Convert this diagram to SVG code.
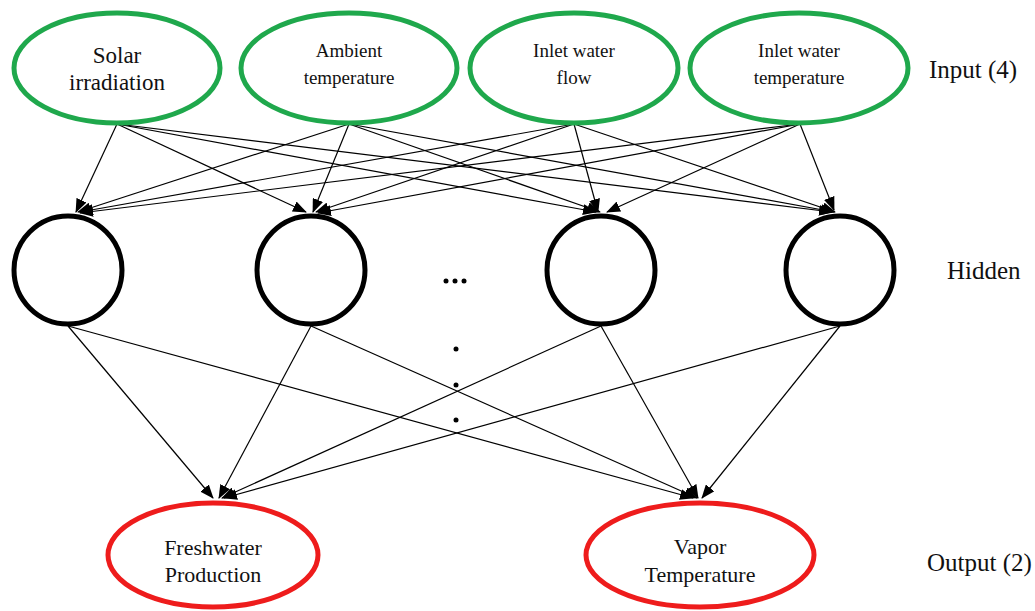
<svg xmlns="http://www.w3.org/2000/svg" width="1035" height="611" viewBox="0 0 1035 611">
<style>
.in{fill:#fff;stroke:#1fa84c;stroke-width:5}
.out{fill:#fff;stroke:#ee1c1c;stroke-width:5}
.hid{fill:#fff;stroke:#000;stroke-width:5}
.t{fill:#111;text-anchor:middle}
.lbl{fill:#111;font-size:25px}
.c line{stroke:#000;stroke-width:1.2;marker-end:url(#ah)}
.dot{fill:#000}
</style>
<defs>
<marker id="ah" viewBox="0 0 14 11" refX="13" refY="5.5" markerWidth="14" markerHeight="11" markerUnits="userSpaceOnUse" orient="auto">
<path d="M0,0 L14,5.5 L0,11 Z" fill="#000"/>
</marker>
</defs>
<rect width="1035" height="611" fill="#fff"/>
<g id="connectors" class="c">
<line x1="117" y1="124" x2="76" y2="212"/>
<line x1="117" y1="124" x2="306" y2="212"/>
<line x1="117" y1="124" x2="596" y2="212"/>
<line x1="117" y1="124" x2="832" y2="212"/>
<line x1="349" y1="124" x2="78" y2="212"/>
<line x1="349" y1="124" x2="313" y2="212"/>
<line x1="349" y1="124" x2="600" y2="212"/>
<line x1="349" y1="124" x2="834" y2="212"/>
<line x1="574" y1="124" x2="80" y2="212"/>
<line x1="574" y1="124" x2="316" y2="212"/>
<line x1="574" y1="124" x2="598" y2="212"/>
<line x1="574" y1="124" x2="835" y2="212"/>
<line x1="800" y1="124" x2="80" y2="213"/>
<line x1="800" y1="124" x2="318" y2="213"/>
<line x1="800" y1="124" x2="607" y2="212"/>
<line x1="800" y1="124" x2="834" y2="210"/>
<line x1="68" y1="326" x2="213" y2="498"/>
<line x1="68" y1="326" x2="693" y2="498"/>
<line x1="311" y1="326" x2="219" y2="498"/>
<line x1="311" y1="326" x2="697" y2="498"/>
<line x1="601" y1="326" x2="222" y2="498"/>
<line x1="601" y1="326" x2="698" y2="498"/>
<line x1="840" y1="326" x2="224" y2="498"/>
<line x1="840" y1="326" x2="702" y2="498"/>
</g>
<g font-family="'Liberation Serif', 'DejaVu Serif', serif">
<g id="in1"><ellipse class="in" cx="117" cy="68" rx="103" ry="55"/><text class="t" font-size="23" x="117" y="63">Solar</text><text class="t" font-size="23" x="117" y="90">irradiation</text></g>
<g id="in2"><ellipse class="in" cx="349" cy="68" rx="108" ry="55"/><text class="t" font-size="19" x="349" y="57">Ambient</text><text class="t" font-size="19" x="349" y="84">temperature</text></g>
<g id="in3"><ellipse class="in" cx="574" cy="68" rx="104" ry="55"/><text class="t" font-size="19" x="574" y="57">Inlet water</text><text class="t" font-size="19" x="574" y="84">flow</text></g>
<g id="in4"><ellipse class="in" cx="799" cy="68" rx="109" ry="55"/><text class="t" font-size="19" x="799" y="57">Inlet water</text><text class="t" font-size="19" x="799" y="84">temperature</text></g>
<g id="h1"><circle class="hid" cx="68" cy="270" r="54"/></g>
<g id="h2"><circle class="hid" cx="311" cy="270" r="54"/></g>
<g id="h3"><circle class="hid" cx="601" cy="270" r="54"/></g>
<g id="h4"><circle class="hid" cx="840" cy="270" r="54"/></g>
<g id="dots">
<circle class="dot" cx="446" cy="281" r="2.5"/><circle class="dot" cx="455" cy="281" r="2.5"/><circle class="dot" cx="464" cy="281" r="2.5"/>
<circle class="dot" cx="456" cy="349" r="2.5"/><circle class="dot" cx="456" cy="385" r="2.5"/><circle class="dot" cx="456" cy="420" r="2.5"/>
</g>
<g id="o1"><ellipse class="out" cx="213" cy="555" rx="105" ry="52"/><text class="t" font-size="22" x="213" y="555">Freshwater</text><text class="t" font-size="22" x="213" y="582">Production</text></g>
<g id="o2"><ellipse class="out" cx="700" cy="555" rx="114" ry="52"/><text class="t" font-size="22" x="700" y="554">Vapor</text><text class="t" font-size="22" x="700" y="582">Temperature</text></g>
<g id="labels">
<text class="lbl" x="929" y="78">Input (4)</text>
<text class="lbl" x="947" y="279">Hidden</text>
<text class="lbl" x="927" y="571">Output (2)</text>
</g>
</g>
</svg>
